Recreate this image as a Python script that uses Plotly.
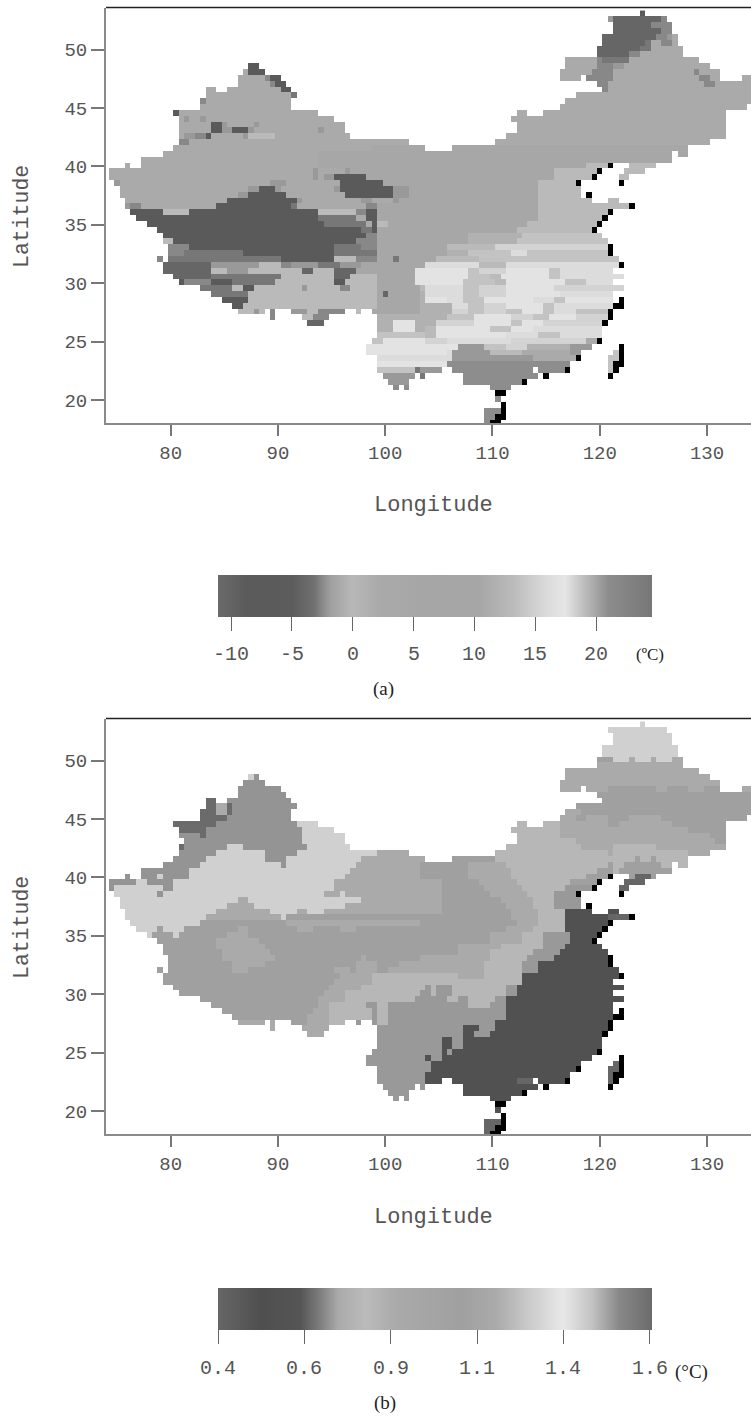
import re
import plotly.graph_objects as go

W, H = 751, 1420
ROW_MIN, ROW_MAX = -9, 61
NCOL = 121
LON_START, LON_STEP = 74.0, 0.5
LAT_START, LAT_STEP = 48.6, 0.5
LON_RANGE = [73.97, 134.1]
LAT_RANGE = [18.03, 53.61]
LON_TICKS = [80, 90, 100, 110, 120, 130]
LAT_TICKS = [20, 25, 30, 35, 40, 45, 50]

# Land cells per grid row: column spans
OUTLINE_ROWS = {
    -9: "100", -8: "94-104", -7: "95-105", -6: "95-105", -5: "93-106", -4: "93-106",
    -3: "92-107", -2: "92-107", -1: "86-110", 0: "27-28 86-112", 1: "26-29 85-114",
    2: "25-32 85-88 90-114 119-120", 3: "25-33 92-120", 4: "19-20 23-34 93-120",
    5: "19-35 88-120", 6: "18-34 86-120", 7: "18-34 85-119", 8: "13-39 77-78 82-115",
    9: "14-42 76-115", 10: "14-44 77-115", 11: "14-44 77-115", 12: "14-45 75-115",
    13: "14-56 73-112", 14: "13-59 65-108", 15: "11-105 107-108", 16: "7-105",
    17: "4 7-93 98-102", 18: "1-91 97-100", 19: "1-90 96-97", 20: "2-87", 21: "3-88",
    22: "3-88", 23: "4-90 94-95", 24: "4-97", 25: "5-93", 26: "6-92", 27: "8-91",
    28: "10-90", 29: "11-92", 30: "11-93", 31: "12-93", 32: "12-93", 33: "10 12-95",
    34: "11-95", 35: "11-94", 36: "13-96", 37: "14-94", 38: "18-96", 39: "20-94",
    40: "22-94", 41: "24-94", 42: "25-29 31 35-44 47 50-93", 43: "31 37-41 51-93",
    44: "38-40 51-92", 45: "51-92", 46: "51-92", 47: "50-91", 48: "49-90",
    49: "49-88 95", 50: "51-87 94-95", 51: "51-86 94", 52: "51-62 65-79 81-85 94",
    53: "52-57 59 67-80", 54: "53-56 67-77", 55: "54 56 72-75", 57: "73",
    59: "71-73", 60: "71-72", 61: "71",
}

# Cells without data, printed solid black along the coast
BLACK_CELLS = {
    17: [94], 18: [92], 19: [91], 20: [88, 96], 22: [90], 24: [98], 25: [94], 26: [93],
    27: [92], 28: [91], 31: [94], 32: [94], 34: [96], 40: [96], 41: [95, 96], 42: [94],
    43: [94], 44: [93], 47: [92], 48: [96], 49: [96], 50: [88, 96], 51: [95, 96],
    52: [86, 95], 53: [82, 94], 54: [78], 56: [73, 74], 58: [74], 59: [74], 60: [73, 74],
    61: [72, 73],
}

# Panel (a) temperature classes in deg C
LEVELS_A = {"K": -8.6, "J": -4.1, "H": -3.0, "G": -2.5, "F": -2.0, "A": 2.1, "Q": 4.3,
            "B": 11.8, "C": 13.0, "D": 13.9, "E": 15.3, "I": 16.0, "L": 17.1,
            "S": 20.5, "T": 21.0}
PANEL_A_ROWS = {
    -9: "100K", -8: "94F 95J 104G", -7: "95J 102G", -6: "95J 104G", -5: "93J 103G 105F 106A",
    -4: "93J 101H 102A 104G 106A", -3: "92J 100H 102A", -2: "92J 98G 100A",
    -1: "86A 92G 93H 98A", 0: "27K 86A 92G 95F 97A", 1: "25A 27K 85A 91G 95A 110G 111A",
    2: "25A 30G 31K 85A 90G 95A 111G 113A", 3: "25A 31G 32K 92G 94A 112G 114A",
    4: "19A 33K 93G 94A", 5: "19A 35H 88A", 6: "18G 19A", 7: "18A", 8: "13K 14A",
    9: "14A 15F 16A 18F 19A", 10: "14A 20K 22F 23A 28F 29A",
    11: "14A 20K 22F 24K 27F 28A 40F 41A", 12: "14A 15F 17G 19K 20A 26F 27C 32A",
    13: "14G 16A", 14: "13A 50Q 65Q", 15: "11A 40Q", 16: "7A 40Q", 17: "4A 40Q 90C",
    18: "1A 39F 40A 45F 46Q 84C", 19: "1A 39F 40A 41F 43K 49Q 84C",
    20: "2F 3A 31F 34A 44K 52Q 81C", 21: "3A 27F 29K 32F 33A 43F 44K 54F 57Q 81C",
    22: "3A 25F 27K 34A 45K 54F 57Q 81C", 23: "4A 23K 34K 36F 37A 48F 50A 54F 55Q 81C",
    24: "4F 5G 7A 21K 35H 36A 49G 51Q 81C", 25: "5K 11C 16K 40C 47G 49K 51Q 81C",
    26: "6K 40H 47A 49K 51Q 81C", 27: "8K 41H 49A 50K 51C 53Q 79C", 28: "10K 48H 50K 51Q 77C",
    29: "11K 49G 51Q 68B 78D", 30: "11C 13K 47G 51Q 68B 77D",
    31: "12G 16K 43H 48G 51Q 64C 73E", 32: "12G 15H 26K 43H 51Q 64B 68D 76I 79D",
    33: "10G 12H 33K 43C 47G 51Q 54H 55Q 62C 70D",
    34: "11J 20F 29C 33G 35F 40H 44F 48Q 60I 70C 75I",
    35: "11J 20C 23F 27C 37J 39C 43J 47Q 58L 68D 70E 75L 83D 85I",
    36: "13J 20H 33C 43J 46C 51Q 58L 68D 72C 74L 83D 85I",
    37: "14K 15G 20K 24H 32C 43K 45C 51Q 58L 67D 73C 75L 86D 90I",
    38: "18H 24C 26K 28C 37F 38C 44G 46C 51Q 59C 60I 67D 70E 75L 84E",
    39: "20H 27C 51Q 52J 53Q 59B 60I 67D 70E 75L 85I",
    40: "22K 27C 51Q 59B 60L 64I 67D 71L 80I 84D 86L",
    41: "24K 26C 51Q 59B 65I 68D 71E 75L 82D 84I",
    42: "25C 28F 29C 31G 35F 38C 40G 47C 50Q 59B 65E 68D 71E 75D 78L 82D 84I 88D",
    43: "31G 37C 39G 51B 64D 69L 76E 80D 83L 88E",
    44: "38J 51B 54L 58B 62E 69L 76D 78L 82E", 45: "51B 54L 58B 60C 62L 72D 76L 80I",
    46: "51D 60C 62L 75I 81D 85I", 47: "50D 52L 60E 64I 76E 90A",
    48: "49L 66S 71D 75E 79B 87S", 49: "49L 64I 65S 72C 78A 87S 95D", 50: "51I 65S 80A 94D",
    51: "51L 64T 94D", 52: "51D 58H 59F 65T 94D", 53: "52F 59H 67T", 54: "53F 67T",
    55: "54T", 57: "73T", 59: "71T", 60: "71T", 61: "71T",
}

# Panel (b) trend classes in deg C
LEVELS_B = {"S": 1.606, "M": 1.5, "P": 1.28, "B": 1.21, "a": 1.17, "A": 1.08,
            "N": 0.715, "D": 0.55, "X": 0.4}
PANEL_B_ROWS = {
    -9: "100P", -8: "90P", -7: "90P", -6: "90P", -5: "90P", -4: "90P",
    -3: "92A 95P 98a 99P 102a 103P 106a", -2: "90a", -1: "86a", 0: "27P 28M 86a", 1: "26M 85a",
    2: "25M 85a 94A 103a 105A 109a 112A 119a", 3: "25M 92A", 4: "19S 23M 93A",
    5: "19S 21a 23S 24M 88A", 6: "18S 21a 23S 24M 86a 89A",
    7: "18S 23M 85a 88A 90a 94A 98a 104A", 8: "13S 21M 36P 77B 85a 94A 96a 106A",
    9: "14S 19M 37P 76B 85a 109A", 10: "14M 18S 19M 37P 77B 85a 113A", 11: "15M 37P 77B 88a 114A",
    12: "14S 15M 23P 26M 38P 75B 89a 95B 103a", 13: "14M 21P 30M 36P 51a 73B 94a 95B 109a",
    14: "13M 19P 30M 34P 48a 65A 73B 99A 100B 102A 103B",
    15: "11M 18P 33M 34P 47a 59A 68a 75B 94A 95B 97A 104B", 16: "7M 16P 46a 59A 68a 76B 92A 95B 96A",
    17: "4M 10P 11M 16P 45a 59A 68a 76B 90A 98A 99X 102A", 18: "1M 6P 8M 13P 43a 63A 70a 77B 87A 97X",
    19: "1M 2P 11M 13P 43a 63A 71a 78B 86N 96X", 20: "2P 10M 11P 41a 44P 45a 63A 72a 79B 84N",
    21: "3P 25a 27P 48a 63A 74a 80B 84N", 22: "3P 23a 28P 45a 63A 75a 80B 84N",
    23: "4P 21a 31P 36a 38P 41a 63A 76a 81B 86D", 24: "4P 19a 33P 34A 76a 81B 86D 94X",
    25: "5P 18A 34a 59A 77a 81B 86D", 26: "6P 10A 11P 15A 25a 27A 36a 39A 44a 47A 75a 80B 86D",
    27: "8P 9A 13P 14A 23a 27A 72a 78B 82N 87D", 28: "10A 21a 29A 72a 78B 82N 87D",
    29: "11A 21a 30A 66a 74B 82N 86D", 30: "11A 22a 31A 66a 72B 80N 85D",
    31: "12A 22a 32A 48a 49A 59a 72B 79N 84D", 32: "12A 24a 30A 47a 51A 55a 71B 78N 81D",
    33: "10A 24a 27A 43a 46A 47a 51A 53a 71B 78N 81D", 34: "11A 44a 50B 66a 71B 78D",
    35: "11A 43a 50B 78D", 36: "13A 42a 48B 60N 61B 62N 65B 75N 77D",
    37: "14A 41a 45B 59N 61B 62N 65B 75N 77D", 38: "18A 40a 45B 58N 64B 66N 68B 73N 75D",
    39: "20A 40a 42B 49N 51B 53N 68B 72N 75D", 40: "22A 39a 42B 50N 51B 53N 75D",
    41: "24A 38a 42B 50N 51B 53N 75D", 42: "25a 35A 38a 42B 47N 51B 53N 73D",
    43: "31a 51N 67D 70N 73D", 44: "38a 51N 67D 69N 72D", 45: "51N 63D 65N 67D", 46: "51N 63D 65N 67D",
    47: "50N 63D 64N 65D", 48: "49N 60D 61N 63D", 49: "49N 61D 95X", 50: "51N 61D 94X",
    51: "51N 60D 94X", 52: "51N 60D 77X 80D 94X", 53: "52N 67D", 54: "53N 67D", 55: "54N 72D",
    57: "73D", 59: "71X", 60: "71X", 61: "71X",
}

# Colour bars: value stops and printed grey
BAR_A_MIN, BAR_A_MAX = -11.07, 24.6
BAR_A_POS = [0, .07, .17, .22, .26, .31, .37, .49, .6, .68, .76, .8, .84, .9, 1]
BAR_A_GREY = [106, 90, 92, 112, 160, 184, 170, 165, 166, 187, 220, 230, 192, 140, 119]
BAR_A_TICKS = [-10, -5, 0, 5, 10, 15, 20]
BAR_A_LABELS = ["-10", "-5", "0", "5", "10", "15", "20"]

BAR_B_MIN, BAR_B_MAX = 0.4, 1.606
BAR_B_POS = [0, .1, .19, .237, .277, .34, .41, .56, .64, .72, .795, .86, .925, 1]
BAR_B_GREY = [102, 79, 85, 128, 170, 187, 170, 160, 170, 204, 232, 196, 136, 107]
BAR_B_TICKS = [0.4, 0.64, 0.88, 1.12, 1.36, 1.6]
BAR_B_LABELS = ["0.4", "0.6", "0.9", "1.1", "1.4", "1.6"]

MONO = "Liberation Mono"
SERIF = "Liberation Serif"
MONO_INK = "#555555"
SERIF_INK = "#222222"


def colorscale(pos, grey):
    return [[p, f"rgb({g},{g},{g})"] for p, g in zip(pos, grey)]


def row_grid(rows, levels, outline):
    grid = []
    for k in range(ROW_MIN, ROW_MAX + 1):
        line = [None] * NCOL
        tokens = [(int(a), b) for a, b in re.findall(r"(\d+)([A-Za-z])", rows.get(k, ""))]
        for span in outline.get(k, "").split():
            lo, _, hi = span.partition("-")
            for c in range(int(lo), int(hi or lo) + 1):
                code = None
                for start, letter in tokens:
                    if start <= c:
                        code = letter
                if code:
                    line[c] = levels[code]
        grid.append(line)
    return grid


lons = [LON_START + LON_STEP * c for c in range(NCOL)]
lats = [LAT_START - LAT_STEP * k for k in range(ROW_MIN, ROW_MAX + 1)]
black = [[1 if c in BLACK_CELLS.get(k, []) else None for c in range(NCOL)]
         for k in range(ROW_MIN, ROW_MAX + 1)]


def py(pixel):
    return 1 - pixel / H


def px(pixel):
    return pixel / W


fig = go.Figure()
fig.add_trace(go.Heatmap(x=lons, y=lats, z=row_grid(PANEL_A_ROWS, LEVELS_A, OUTLINE_ROWS),
                         coloraxis="coloraxis", xaxis="x", yaxis="y", hoverongaps=False))
fig.add_trace(go.Heatmap(x=lons, y=lats, z=black, zmin=0, zmax=1, showscale=False,
                         colorscale=[[0, "#000"], [1, "#000"]], xaxis="x", yaxis="y"))
fig.add_trace(go.Heatmap(x=lons, y=lats, z=row_grid(PANEL_B_ROWS, LEVELS_B, OUTLINE_ROWS),
                         coloraxis="coloraxis2", xaxis="x2", yaxis="y2", hoverongaps=False))
fig.add_trace(go.Heatmap(x=lons, y=lats, z=black, zmin=0, zmax=1, showscale=False,
                         colorscale=[[0, "#000"], [1, "#000"]], xaxis="x2", yaxis="y2"))


def xaxis(anchor):
    return dict(domain=[px(106), 1], range=LON_RANGE, anchor=anchor, tickvals=LON_TICKS,
                ticks="outside", ticklen=11, tickwidth=1.5, tickcolor="#777", showgrid=False,
                zeroline=False, showline=True, linecolor="#8a8a8a", linewidth=2,
                ticklabelstandoff=0, tickfont=dict(family=MONO, size=19, color=MONO_INK))


def yaxis(anchor, top, bottom):
    return dict(domain=[py(bottom), py(top)], range=LAT_RANGE, anchor=anchor, tickvals=LAT_TICKS,
                ticks="outside", ticklen=13, tickwidth=1.5, tickcolor="#777", showgrid=False,
                zeroline=False, showline=True, linecolor="#8a8a8a", linewidth=2,
                ticklabelstandoff=0, tickfont=dict(family=MONO, size=19, color=MONO_INK))


def colorbar(ticks, bar_top):
    return dict(orientation="h", x=px(218), xanchor="left", xref="paper", y=py(bar_top),
                yanchor="top", yref="paper", len=434, lenmode="pixels", thickness=42,
                thicknessmode="pixels", xpad=0, ypad=0, outlinewidth=0, tickvals=ticks,
                ticks="outside", ticklen=14, tickwidth=1.2, tickcolor="#666",
                showticklabels=False)


annotations = []


def note(text, x, y, family=MONO, size=20, angle=0, color=MONO_INK):
    annotations.append(dict(text=text, x=px(x), y=py(y), xref="paper", yref="paper",
                            showarrow=False, xanchor="center", yanchor="middle", textangle=angle,
                            font=dict(family=family, size=size, color=color)))


for offset in (0, 711):
    note("Longitude", 434, 506 + offset, size=22)
    note("Latitude", 22, 217 + offset, size=21.5, angle=-90)

for tick, label in zip(BAR_A_TICKS, BAR_A_LABELS):
    note(label, 218 + (tick - BAR_A_MIN) / (BAR_A_MAX - BAR_A_MIN) * 434, 655)
for tick, label in zip(BAR_B_TICKS, BAR_B_LABELS):
    note(label, 218 + (tick - BAR_B_MIN) / (BAR_B_MAX - BAR_B_MIN) * 434, 1368)
note("(ºC)", 650, 655, family=SERIF, size=17, color=SERIF_INK)
note("(°C)", 691, 1372, family=SERIF, size=19, color=SERIF_INK)
note("(a)", 383, 689, family=SERIF, size=19, color=SERIF_INK)
note("(b)", 385, 1403, family=SERIF, size=19, color=SERIF_INK)

frame = [dict(type="line", xref="paper", yref="paper", x0=px(106), x1=1, y0=py(top), y1=py(top),
              line=dict(color="#222", width=1.5)) for top in (7.5, 718.5)]

fig.update_layout(
    width=W, height=H, margin=dict(l=0, r=0, t=0, b=0), paper_bgcolor="white", plot_bgcolor="white",
    showlegend=False,
    xaxis=xaxis("y"), yaxis=yaxis("x", 7.5, 423),
    xaxis2=xaxis("y2"), yaxis2=yaxis("x2", 718.5, 1134),
    coloraxis=dict(cmin=BAR_A_MIN, cmax=BAR_A_MAX, colorscale=colorscale(BAR_A_POS, BAR_A_GREY),
                   colorbar=colorbar(BAR_A_TICKS, 575)),
    coloraxis2=dict(cmin=BAR_B_MIN, cmax=BAR_B_MAX, colorscale=colorscale(BAR_B_POS, BAR_B_GREY),
                    colorbar=colorbar(BAR_B_TICKS, 1288)),
    annotations=annotations, shapes=frame,
)
fig.write_html("out.html", config={"displayModeBar": False},
               post_script="document.body.style.margin='0';")
